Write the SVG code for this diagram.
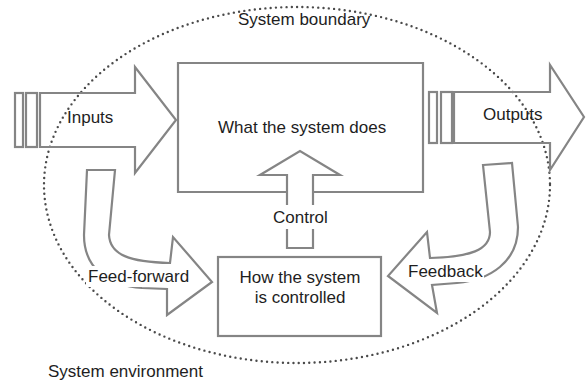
<svg xmlns="http://www.w3.org/2000/svg" width="586" height="382" viewBox="0 0 586 382">
  <style>
    .ln { fill: none; stroke: #858585; stroke-width: 2.2; stroke-linejoin: miter; }
    .lbl { font-family: "Liberation Sans", Arial, sans-serif; font-size: 17px; fill: #1e1e1e; }
    .mask { fill: #ffffff; stroke: none; }
    .dots { fill: none; stroke: #4a4a4a; stroke-width: 2.4; stroke-linecap: round; stroke-dasharray: 0 5.3; }
  </style>
  <rect width="586" height="382" fill="#ffffff"/>

  <!-- system boundary -->
  <g id="boundary">
    <ellipse class="dots" cx="297" cy="185" rx="253" ry="178"/>
    <text class="lbl" x="238" y="25">System boundary</text>
  </g>

  <!-- process box; bottom edge left open where the control arrow enters -->
  <g id="process">
    <path class="ln" d="M287,192 H178 V63 H423 V192 H313"/>
    <text class="lbl" x="218" y="133">What the system does</text>
  </g>

  <!-- control box -->
  <g id="controller">
    <rect class="ln" x="218" y="257" width="163" height="79"/>
    <text class="lbl" x="300" y="283" text-anchor="middle">How the system</text>
    <text class="lbl" x="300" y="303" text-anchor="middle">is controlled</text>
  </g>

  <g id="connectors">
    <!-- inputs -->
    <g id="inputs">
      <rect class="ln" x="15" y="93" width="8" height="54"/>
      <rect class="ln" x="26" y="93" width="11" height="54"/>
      <polygon class="ln" points="40,93 135,93 135,67 176,120 135,173 135,147 40,147"/>
      <text class="lbl" x="67" y="123">Inputs</text>
    </g>

    <!-- outputs -->
    <g id="outputs">
      <rect class="ln" x="429" y="92" width="8" height="51"/>
      <rect class="ln" x="441" y="92" width="11" height="51"/>
      <polygon class="ln" points="454,92 550,92 550,65 584,117 550,170 550,143 454,143"/>
      <text class="lbl" x="483" y="120">Outputs</text>
    </g>

    <!-- feed-forward -->
    <g id="feed-forward">
      <path class="ln" d="M87,170 L115,170 L109,235 C110,255 130,262 170,263 L173,237 L212,282 L167,315 L167,289 L142,288 C110,286 84,270 84,235 Z"/>
      <rect class="mask" x="86" y="266" width="104" height="21"/>
      <text class="lbl" x="88" y="282">Feed-forward</text>
    </g>

    <!-- feedback -->
    <g id="feedback">
      <path class="ln" d="M483,165 L512,163 L518,227 C518,262 490,280 457,283 L432,285 L437,313 L388,276 L427,232 L430,258 C470,257 490,250 490,232 Z"/>
      <rect class="mask" x="406" y="262" width="78" height="20"/>
      <text class="lbl" x="408" y="277">Feedback</text>
    </g>

    <!-- control -->
    <g id="control">
      <polygon class="ln" points="287,248 287,175 260,175 300,151 340,175 313,175 313,248"/>
      <rect class="mask" x="271" y="205" width="60" height="24"/>
      <text class="lbl" x="273" y="223">Control</text>
    </g>
  </g>

  <text class="lbl" x="48" y="377">System environment</text>
</svg>
